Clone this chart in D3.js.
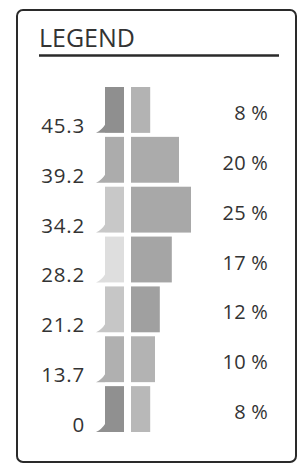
<!DOCTYPE html>
<html><head><meta charset="utf-8">
<script src="https://cdn.jsdelivr.net/npm/d3@7"></script>
<style>
html,body{margin:0;padding:0;background:#fff;}
svg{display:block;}
text{font-family:"Open Sans",sans-serif;fill:#333;}
</style></head>
<body>
<script>
const title = "LEGEND";
const classLabels = ["45.3","39.2","34.2","28.2","21.2","13.7","0"];
const percents = [8,20,25,17,12,10,8];
const leftShades = ["#8f8f8f","#acacac","#c8c8c8","#dedede","#c6c6c6","#b0b0b0","#909090"];
const rightShades = ["#b3b3b3","#ababab","#a8a8a8","#a5a5a5","#a0a0a0","#b3b3b3","#b8b8b8"];

const W = 300, H = 466;
const svg = d3.select("body").append("svg").attr("width", W).attr("height", H);

svg.append("rect").attr("x",17).attr("y",10).attr("width",279).attr("height",452)
  .attr("rx",6).attr("fill","none").attr("stroke","#2a2a2a").attr("stroke-width",2);

svg.append("text").attr("x",39).attr("y",47).attr("font-size",25).text(title);
svg.append("line").attr("x1",39).attr("x2",279).attr("y1",55.5).attr("y2",55.5)
  .attr("stroke","#2a2a2a").attr("stroke-width",2.5);

const y = d3.scaleBand().domain(d3.range(classLabels.length)).range([87,432]).paddingInner(0.08);
const x = d3.scaleLinear().domain([0,25]).range([0,60]);

const leftX = 105, leftW = 19, rightX = 131;

const rows = svg.selectAll("g.row").data(classLabels.map((l,i)=>({l,p:percents[i],i})))
  .enter().append("g").attr("class","row");

rows.append("rect").attr("x",leftX).attr("y",d=>y(d.i)).attr("width",leftW)
  .attr("height",y.bandwidth()).attr("fill",d=>leftShades[d.i]);

rows.append("path").attr("fill",d=>leftShades[d.i]).attr("d",d=>{
  const b = y(d.i)+y.bandwidth();
  return `M${leftX},${b-8} Q${leftX-3},${b-3} ${leftX-9},${b} L${leftX},${b} Z`;
});

rows.append("rect").attr("x",rightX).attr("y",d=>y(d.i)).attr("width",d=>x(d.p))
  .attr("height",y.bandwidth()).attr("fill",d=>rightShades[d.i]);

rows.append("text").attr("x",85).attr("y",d=>y(d.i)+y.bandwidth()).attr("text-anchor","end")
  .attr("font-size",20.5).attr("letter-spacing",0.8).text(d=>d.l);

rows.append("text").attr("x",268).attr("y",d=>y(d.i)+y.bandwidth()/2+10).attr("text-anchor","end")
  .attr("font-size",20).attr("letter-spacing",0.2).text(d=>d.p+" %");
</script>
</body></html>
